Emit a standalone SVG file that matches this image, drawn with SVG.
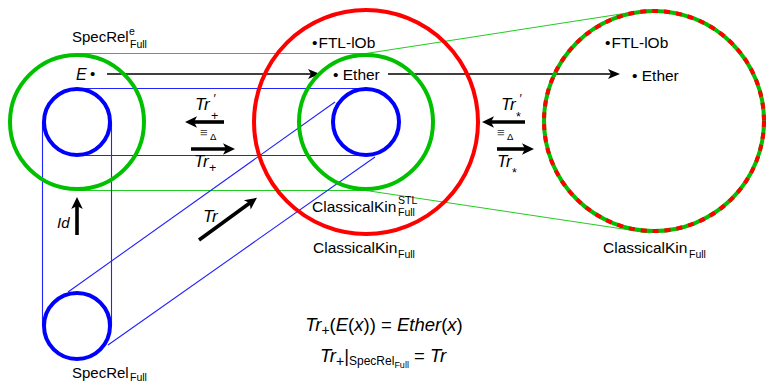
<svg xmlns="http://www.w3.org/2000/svg" width="767" height="383" viewBox="0 0 767 383">
<style>
text{font-family:"Liberation Sans",Arial,sans-serif;fill:#000}
.lbl{font-size:15.5px}
.it{font-style:italic}
.sm{font-size:10.5px}
.sub{font-size:12.5px}
.pr{font-size:12px;font-style:italic}
.gc{fill:none;stroke:#00c000;stroke-width:4}
.bc{fill:none;stroke:#0000ff;stroke-width:4}
.rc{fill:none;stroke:#ff0000;stroke-width:4}
.gl{stroke:#22cc22;stroke-width:1.1;fill:none}
.bl{stroke:#2222ff;stroke-width:1.1;fill:none}
.thin{stroke:#000;stroke-width:1.6;fill:none;marker-end:url(#ah)}
.thick{stroke:#000;stroke-width:3.6;fill:none;marker-end:url(#ahb)}
</style>
<defs>
<marker id="ah" markerUnits="userSpaceOnUse" viewBox="-5 -6 14 12" markerWidth="14" markerHeight="12" refX="0" refY="0" orient="auto">
<path d="M8,0 L-4,-5 L-1,0 L-4,5 Z" fill="#000"/>
</marker>
<marker id="ahb" markerUnits="userSpaceOnUse" viewBox="-5 -7 14 14" markerWidth="14" markerHeight="14" refX="0" refY="0" orient="auto">
<path d="M8,0 L-4,-5.8 L-1,0 L-4,5.8 Z" fill="#000"/>
</marker>
</defs>

<g id="connectors">
<path class="gl" d="M77,53.5 H366 L650,9.5"/>
<path class="gl" d="M77,190.5 H366 L650,233"/>
<path class="bl" d="M77,88.5 H366 M77,155.5 H366"/>
<path class="bl" d="M42.5,122 V326 M111.5,122 V326"/>
<path class="bl" d="M68,292 L335,102 M108,345 L375,157"/>
<line class="thin" x1="107" y1="74" x2="312" y2="74"/>
<line class="thin" x1="388" y1="74" x2="612" y2="74"/>
<line class="thick" x1="224" y1="122" x2="193" y2="122"/>
<line class="thick" x1="191" y1="149" x2="227" y2="149"/>
<line class="thick" x1="525" y1="122" x2="490" y2="122"/>
<line class="thick" x1="497" y1="149" x2="526" y2="149"/>
<line class="thick" x1="77" y1="235" x2="77" y2="205"/>
<line class="thick" x1="199" y1="240" x2="250.5" y2="202.5"/>
</g>

<g id="specrel-e">
<circle class="gc" cx="77" cy="122" r="67"/>
<text class="lbl" x="72" y="42" style="font-size:15px">SpecRel</text>
<text class="sm" x="129" y="35">e</text>
<text class="sm" x="130" y="47.5">Full</text>
<text class="it" x="76" y="80" style="font-size:16px">E</text>
<text x="90" y="79" style="font-size:15px">•</text>
</g>

<g id="specrel-inner">
<circle class="bc" cx="77" cy="122" r="33"/>
</g>

<g id="specrel-full">
<circle class="bc" cx="77" cy="326" r="33"/>
<text class="lbl" x="72" y="378" style="font-size:15px">SpecRel</text>
<text class="sm" x="130" y="381">Full</text>
</g>

<g id="classicalkin-full-mid">
<circle class="rc" cx="366" cy="122" r="112"/>
<text class="lbl" x="312" y="48"><tspan>•</tspan><tspan dx="1">FTL-lOb</tspan></text>
<text class="lbl" x="313" y="253">ClassicalKin</text>
<text class="sm" x="398" y="258">Full</text>
</g>

<g id="classicalkin-stl">
<circle class="gc" cx="366" cy="122" r="67"/>
<text class="lbl" x="333" y="80">• Ether</text>
<text class="lbl" x="312" y="212">ClassicalKin</text>
<text class="sm" x="398" y="204">STL</text>
<text class="sm" x="398" y="216">Full</text>
</g>

<g id="stl-inner">
<circle class="bc" cx="366" cy="122" r="33"/>
</g>

<g id="classicalkin-full-right">
<circle class="gc" cx="654" cy="121" r="110"/>
<circle cx="654" cy="121" r="110" fill="none" stroke="#ff0000" stroke-width="4" stroke-dasharray="6 6"/>
<text class="lbl" x="605" y="48"><tspan>•</tspan><tspan dx="1">FTL-lOb</tspan></text>
<text class="lbl" x="632" y="81">• Ether</text>
<text class="lbl" x="603" y="253">ClassicalKin</text>
<text class="sm" x="689" y="258">Full</text>
</g>

<g id="labels">
<text class="it" x="195" y="110" style="font-size:17px">Tr</text>
<text class="pr" x="213" y="103">′</text>
<text class="sub" x="211" y="120">+</text>
<text x="200" y="137" style="font-size:13px;fill:#555">≡</text>
<text x="210" y="140" style="font-size:9.5px">Δ</text>
<text class="it" x="194" y="167" style="font-size:17px">Tr</text>
<text class="sub" x="209" y="172">+</text>

<text class="it" x="501" y="110" style="font-size:17px">Tr</text>
<text class="pr" x="519" y="103">′</text>
<text class="sub" x="516" y="121">*</text>
<text x="497" y="137" style="font-size:13px;fill:#555">≡</text>
<text x="507" y="140" style="font-size:9.5px">Δ</text>
<text class="it" x="497" y="167" style="font-size:17px">Tr</text>
<text class="sub" x="512" y="177">*</text>

<text class="it" x="57" y="228" style="font-size:15px">Id</text>
<text class="it" x="203" y="222" style="font-size:17px">Tr</text>

<text x="384" y="331" text-anchor="middle" style="font-size:18.5px"><tspan class="it">Tr</tspan><tspan dy="4" style="font-size:14px">+</tspan><tspan dy="-4">(</tspan><tspan class="it">E</tspan><tspan>(</tspan><tspan class="it">x</tspan><tspan>))  =  </tspan><tspan class="it">Ether</tspan><tspan>(</tspan><tspan class="it">x</tspan><tspan>)</tspan></text>
<text x="383" y="362" text-anchor="middle" style="font-size:18.5px"><tspan class="it">Tr</tspan><tspan dy="4" style="font-size:14px">+</tspan><tspan dy="-4">|</tspan><tspan dy="3" style="font-size:12px">SpecRel</tspan><tspan dy="3" style="font-size:9px">Full</tspan><tspan dy="-6">  =  </tspan><tspan class="it">Tr</tspan></text>
</g>
</svg>
